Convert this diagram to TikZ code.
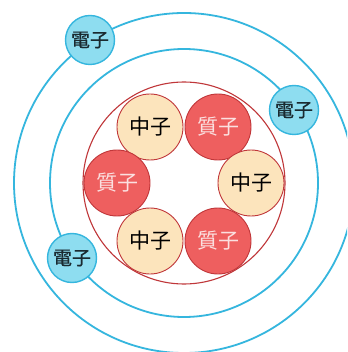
\documentclass[tikz,border=0pt]{standalone}
\usepackage{fontspec}
\newfontfamily\cjk{Noto Sans CJK TC}
\newfontfamily\cjkmed[FakeBold=0.7]{Noto Sans CJK TC}
\definecolor{orbit}{HTML}{35B6DE}
\definecolor{efill}{HTML}{8EDDF0}
\definecolor{etext}{HTML}{1A2A30}
\definecolor{nucline}{HTML}{C0373A}
\definecolor{pfill}{HTML}{EE5F5F}
\definecolor{ptext}{HTML}{FBE0E0}
\definecolor{nfill}{HTML}{FCE4BC}
\tikzset{
  x=1pt, y=-1pt,
  orbitline/.style={draw=orbit, line width=1.8pt},
  electron/.style={circle, draw=orbit, line width=1.4pt, fill=efill,
    minimum size=49pt, inner sep=0pt, font=\cjkmed\fontsize{19}{19}\selectfont, text=etext},
  nucleon/.style={circle, draw=nucline, line width=0.9pt,
    minimum size=66pt, inner sep=0pt, font=\cjk\fontsize{21}{21}\selectfont},
  proton/.style={nucleon, fill=pfill, text=ptext},
  neutron/.style={nucleon, fill=nfill, text=black},
}
\begin{document}
\begin{tikzpicture}
\useasboundingbox (0,0) rectangle (347,352);
\clip (0,0) rectangle (347,352);
\fill[white] (0,0) rectangle (347,352);
% orbits
\coordinate (c) at (184,183);
\draw[orbitline] (c) circle[radius=170];
\draw[orbitline] (c) circle[radius=134];
% nucleus boundary
\draw[draw=nucline, line width=1.1pt] (c) circle[radius=101];
% nucleons
\node[neutron] (n1) at (150,127) {中子};
\node[proton]  (p1) at (218,127) {質子};
\node[proton]  (p2) at (117,183) {質子};
\node[neutron] (n2) at (251,183) {中子};
\node[neutron] (n3) at (150,241) {中子};
\node[proton]  (p3) at (218,241) {質子};
% electrons
\node[electron] (e1) at (90,40) {電子};
\node[electron] (e2) at (294,110) {電子};
\node[electron] (e3) at (72,258) {電子};
\end{tikzpicture}
\end{document}
